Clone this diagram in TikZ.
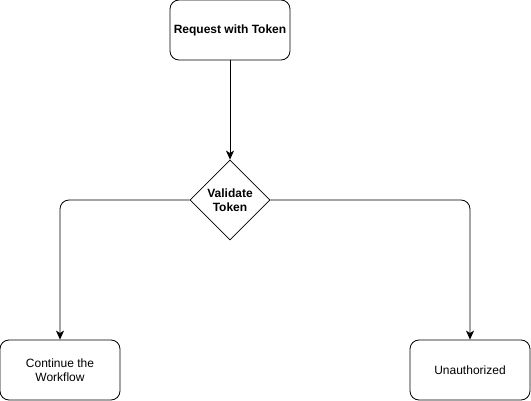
\documentclass[tikz,border=0pt]{standalone}
\usepackage{fontspec}
\setmainfont{Liberation Sans}
\usetikzlibrary{arrows.meta}
\usetikzlibrary{shapes.geometric}

\begin{document}
\begin{tikzpicture}[x=1pt,y=-1pt]
	\tikzstyle{boite}=[rectangle,draw,rounded corners=9pt,fill=white,minimum width=120pt,minimum height=60pt,align=center,font=\fontsize{12}{14}\selectfont,line width=0.8pt]
	\tikzstyle{losange}=[diamond,draw,fill=white,aspect=1,inner sep=0pt,minimum width=80pt,minimum height=80pt,align=center,font=\fontsize{12}{14}\selectfont\bfseries,line width=0.8pt]
	\tikzstyle{fleche}=[-{Stealth[length=9pt,width=8pt,inset=2.5pt]},line width=0.8pt,rounded corners=9pt]
	\useasboundingbox (0,0) rectangle (531,401);
	\node[boite,font=\fontsize{12}{14}\selectfont\bfseries] (R) at (230,30){Request with Token};
	\node[losange] (V) at (230,200){Validate\\Token};
	\node[boite] (C) at (60,370){Continue the\\Workflow};
	\node[boite] (U) at (470,370){Unauthorized};
	\draw[fleche] (R) -- (V);
	\draw[fleche] (V.west) -| (C);
	\draw[fleche] (V.east) -| (U);
\end{tikzpicture}
\end{document}
